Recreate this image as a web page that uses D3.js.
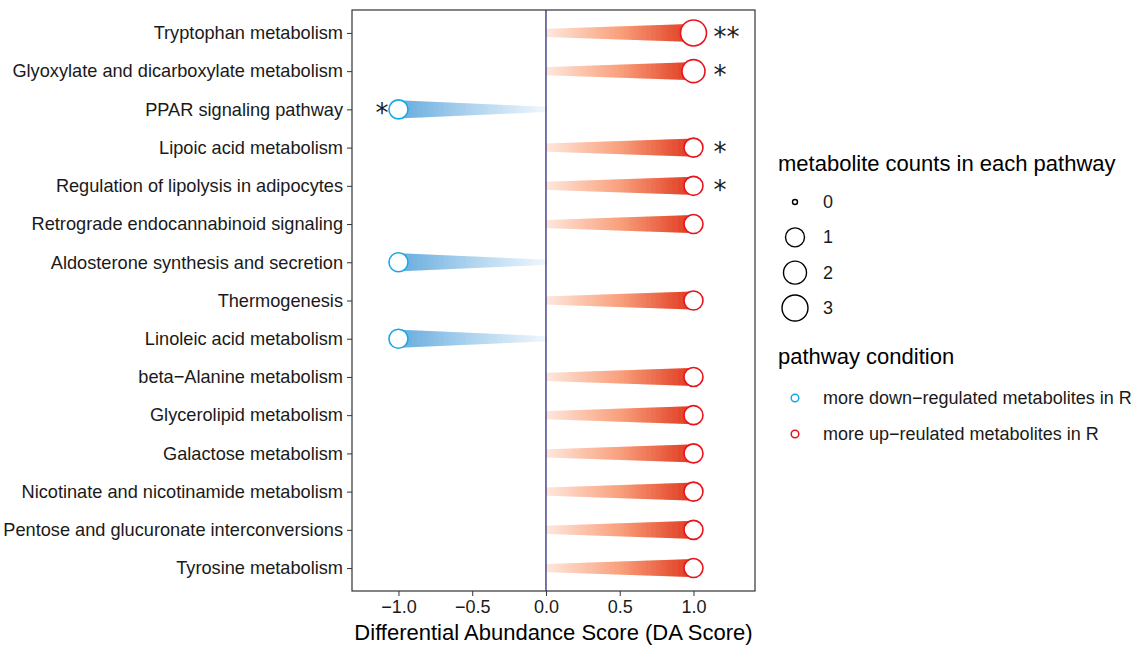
<!DOCTYPE html>
<html>
<head>
<meta charset="utf-8">
<script src="https://cdn.jsdelivr.net/npm/d3@7/dist/d3.min.js"></script>
<style>
  body { margin: 0; background: #fff; }
  text { font-family: "Liberation Sans", Arial, sans-serif; }
</style>
</head>
<body>
<svg id="chart" width="1142" height="645"></svg>
<script>
// pathways from top to bottom
var pathways = [
  "Tryptophan metabolism",
  "Glyoxylate and dicarboxylate metabolism",
  "PPAR signaling pathway",
  "Lipoic acid metabolism",
  "Regulation of lipolysis in adipocytes",
  "Retrograde endocannabinoid signaling",
  "Aldosterone synthesis and secretion",
  "Thermogenesis",
  "Linoleic acid metabolism",
  "beta\u2212Alanine metabolism",
  "Glycerolipid metabolism",
  "Galactose metabolism",
  "Nicotinate and nicotinamide metabolism",
  "Pentose and glucuronate interconversions",
  "Tyrosine metabolism"
];
var daScores = [1, 1, -1, 1, 1, 1, -1, 1, -1, 1, 1, 1, 1, 1, 1];
var counts   = [3, 2, 1, 1, 1, 1, 1, 1, 1, 1, 1, 1, 1, 1, 1];
var signif   = ["**", "*", "*", "*", "*", "", "", "", "", "", "", "", "", "", ""];
var xTicks = [-1.0, -0.5, 0.0, 0.5, 1.0];
var countLevels = [0, 1, 2, 3];
var conditions = ["more down\u2212regulated metabolites in R", "more up\u2212reulated metabolites in R"];

var svg = d3.select("#chart");

var pLeft = 352, pRight = 755, pTop = 10, pBottom = 591;

var x = d3.scaleLinear().domain([-1.315, 1.417]).range([pLeft, pRight]);
var y = d3.scalePoint().domain(pathways).range([pTop, pBottom]).padding(0.6);
var r = d3.scaleLinear().domain([0, 1, 2, 3]).range([3, 9.5, 11.5, 13]);

var redCol = d3.scaleLinear().domain([0, 0.5, 1]).range(["#fee8dd", "#f9a07c", "#df361c"]);
var blueCol = d3.scaleLinear().domain([0, 0.5, 1]).range(["#f0f7fc", "#b0d4ef", "#66acdd"]);
var strokeCol = { up: "#e8141b", down: "#16a9e6" };

// panel
svg.append("rect")
  .attr("x", pLeft).attr("y", pTop)
  .attr("width", pRight - pLeft).attr("height", pBottom - pTop)
  .attr("fill", "#fff");

// comets
var nSeg = 60;
pathways.forEach(function (p, i) {
  var s = daScores[i];
  var up = s > 0;
  var col = up ? redCol : blueCol;
  var w0 = up ? 8 : 5, w1 = 18;
  var g = svg.append("g");
  for (var k = 0; k < nSeg; k++) {
    var t0 = k / nSeg, t1 = (k + 1) / nSeg;
    var xa = x(s * t0), xb = x(s * t1);
    var w = w0 + (w1 - w0) * t1;
    g.append("rect")
      .attr("x", Math.min(xa, xb))
      .attr("y", y(p) - w / 2)
      .attr("width", Math.abs(xb - xa) + 0.6)
      .attr("height", w)
      .attr("fill", col((t0 + t1) / 2));
  }
});

// zero line
svg.append("line")
  .attr("x1", x(0)).attr("x2", x(0))
  .attr("y1", pTop).attr("y2", pBottom)
  .attr("stroke", "#191970").attr("stroke-width", 1.2);

// end points
svg.selectAll(".pt")
  .data(pathways)
  .enter().append("circle")
  .attr("class", "pt")
  .attr("cx", function (d, i) { return x(daScores[i]); })
  .attr("cy", function (d) { return y(d); })
  .attr("r", function (d, i) { return r(counts[i]); })
  .attr("fill", "#fff")
  .attr("stroke", function (d, i) { return daScores[i] > 0 ? strokeCol.up : strokeCol.down; })
  .attr("stroke-width", 1.6);

// significance stars
svg.selectAll(".star")
  .data(pathways)
  .enter().append("text")
  .attr("class", "star")
  .attr("x", function (d, i) { return daScores[i] > 0 ? x(daScores[i]) + 20 : x(daScores[i]) - 10; })
  .attr("y", function (d) { return y(d) + 13; })
  .attr("text-anchor", function (d, i) { return daScores[i] > 0 ? "start" : "end"; })
  .style("font-family", "'DejaVu Sans', sans-serif")
  .style("font-size", "26px")
  .attr("fill", "#1a1a1a")
  .text(function (d, i) { return signif[i]; });

// border
svg.append("rect")
  .attr("x", pLeft).attr("y", pTop)
  .attr("width", pRight - pLeft).attr("height", pBottom - pTop)
  .attr("fill", "none").attr("stroke", "#333").attr("stroke-width", 1.2);

// axes
var yAxis = svg.append("g")
  .attr("transform", "translate(" + pLeft + ",0)")
  .call(d3.axisLeft(y).tickSize(5).tickPadding(4));
yAxis.select(".domain").remove();
yAxis.selectAll("line").attr("stroke", "#333");
yAxis.selectAll("text").style("font-size", "18.2px").attr("fill", "#1a1a1a");

var xAxis = svg.append("g")
  .attr("transform", "translate(0," + pBottom + ")")
  .call(d3.axisBottom(x).tickValues(xTicks).tickSize(5).tickPadding(4)
    .tickFormat(function (d) { return d3.format(".1f")(d).replace("-", "\u2212"); }));
xAxis.select(".domain").remove();
xAxis.selectAll("line").attr("stroke", "#333");
xAxis.selectAll("text").style("font-size", "18px").attr("fill", "#1a1a1a");

svg.append("text")
  .attr("x", (pLeft + pRight) / 2).attr("y", 640)
  .attr("text-anchor", "middle")
  .style("font-size", "22px").attr("fill", "#000")
  .text("Differential Abundance Score (DA Score)");

// legend: counts
var lg = svg.append("g");
lg.append("text").attr("x", 778).attr("y", 171)
  .style("font-size", "22px").attr("fill", "#000")
  .text("metabolite counts in each pathway");
var sizeY = d3.scalePoint().domain(countLevels).range([202, 308]);
countLevels.forEach(function (c) {
  lg.append("circle").attr("cx", 795).attr("cy", sizeY(c)).attr("r", r(c) - (c === 0 ? 0.5 : 0))
    .attr("fill", "#fff").attr("stroke", "#000").attr("stroke-width", 1.4);
  lg.append("text").attr("x", 823).attr("y", sizeY(c) + 6)
    .style("font-size", "18px").attr("fill", "#1a1a1a").text(c);
});

// legend: condition
lg.append("text").attr("x", 778).attr("y", 364)
  .style("font-size", "22px").attr("fill", "#000")
  .text("pathway condition");
var condY = d3.scalePoint().domain(conditions).range([398, 434]);
conditions.forEach(function (c, i) {
  lg.append("circle").attr("cx", 795).attr("cy", condY(c)).attr("r", 3.8)
    .attr("fill", "#fff").attr("stroke", i === 0 ? strokeCol.down : strokeCol.up).attr("stroke-width", 1.5);
  lg.append("text").attr("x", 823).attr("y", condY(c) + 6)
    .style("font-size", "18px").attr("fill", "#1a1a1a").text(c);
});
</script>
</body>
</html>
